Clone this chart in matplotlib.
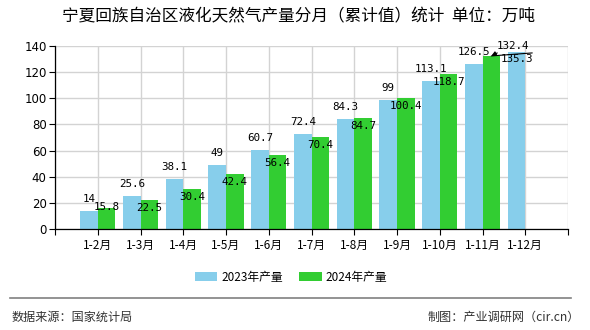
import numpy as np
import matplotlib
matplotlib.use("Agg")
import matplotlib.pyplot as plt

plt.rcParams['font.family'] = ['Noto Sans CJK SC', 'DejaVu Sans']

# data
months = ["1-2月", "1-3月", "1-4月", "1-5月", "1-6月", "1-7月",
          "1-8月", "1-9月", "1-10月", "1-11月", "1-12月"]
prod_2023 = [14, 25.6, 38.1, 49, 60.7, 72.4, 84.3, 99, 113.1, 126.5, 135.3]
prod_2024 = [15.8, 22.5, 30.4, 42.4, 56.4, 70.4, 84.7, 100.4, 118.7, 132.4]

blue = "#87CEEB"
green = "#32CD32"

fig = plt.figure(figsize=(5.9, 3.3), dpi=100)
ax = fig.add_axes([55 / 590, 1 - 229 / 330, 513 / 590, 183 / 330])

x = np.arange(1, len(months) + 1)
w = 0.41
b1 = ax.bar(x[:len(prod_2023)] - w / 2, prod_2023, w, color=blue, label="2023年产量", zorder=2)
b2 = ax.bar(x[:len(prod_2024)] + w / 2, prod_2024, w, color=green, label="2024年产量", zorder=2)

ax.set_xlim(0, 12)
ax.set_ylim(0, 140)
ax.set_xticks(np.arange(0, 13))
ax.set_xticklabels([""] + months + [""], fontsize=8.5)
ax.set_yticks(np.arange(0, 141, 20))
ax.tick_params(axis='y', labelsize=8.5, length=4, width=0.8, pad=2)
ax.tick_params(axis='x', length=4, width=0.8, pad=3)
for lab in ax.get_yticklabels():
    lab.set_family(['DejaVu Sans'])
ax.grid(True, color="#d3d3d3", linewidth=1, zorder=0)
ax.set_axisbelow(True)
for s in ["top", "right"]:
    ax.spines[s].set_visible(False)
for s in ["left", "bottom"]:
    ax.spines[s].set_color("black")
    ax.spines[s].set_linewidth(0.9)

num_font = dict(fontsize=7.8, family=['DejaVu Sans Mono'], ha='center', va='center', zorder=4)
px = 0.72  # points per pixel

# value labels 2023
for i, v in enumerate(prod_2023):
    dy = 12 if i < len(prod_2023) - 1 else -7
    ax.annotate(f"{v:g}", (x[i] - w / 2, v), xytext=(0, dy * px),
                textcoords='offset points', **num_font)

# value labels 2024
for i, v in enumerate(prod_2024):
    if i == len(prod_2024) - 1:
        continue
    dy = 1.5 if i == 0 else -8
    ax.annotate(f"{v:g}", (x[i] + w / 2, v), xytext=(0, dy * px),
                textcoords='offset points', **num_font)

# last 2024 label with leader line
i = len(prod_2024) - 1
v = prod_2024[i]
ax.annotate("", (x[i] + w / 2, v), xytext=(6 * px, 3 * px), textcoords='offset points',
            arrowprops=dict(arrowstyle='-|>', color='black', lw=0.8, mutation_scale=7,
                            shrinkA=0, shrinkB=0), zorder=4)
ax.annotate("", (x[i] + w / 2, v), xytext=(41 * px, 3 * px), textcoords='offset points',
            arrowprops=dict(arrowstyle='-', color='black', lw=0.8,
                            shrinkA=0, shrinkB=0), zorder=4)
ax.annotate(f"{v:g}", (x[i] + w / 2, v), xytext=(22 * px, 10 * px),
            textcoords='offset points', **num_font)

fig.text(298 / 590, 1 - 17 / 330, "宁夏回族自治区液化天然气产量分月（累计值）统计  单位：万吨",
         ha='center', va='center', fontsize=12)

leg = fig.legend(handles=[b1, b2], loc='center', bbox_to_anchor=(291 / 590, 1 - 277 / 330),
                 ncol=2, frameon=False, fontsize=8.5, handlelength=1.9, handleheight=0.8,
                 columnspacing=1.4, handletextpad=0.35)

fig.add_artist(plt.Line2D([10 / 590, 571 / 590], [1 - 298 / 330] * 2,
                          color="#808080", lw=1.2, transform=fig.transFigure))
fig.text(12 / 590, 1 - 317 / 330, "数据来源：国家统计局", ha='left', va='center',
         fontsize=8.7, color="#333333")
fig.text(580 / 590, 1 - 317 / 330, "制图：产业调研网（cir.cn）", ha='right', va='center',
         fontsize=8.7, color="#333333")

fig.savefig("out.png", dpi=100)
